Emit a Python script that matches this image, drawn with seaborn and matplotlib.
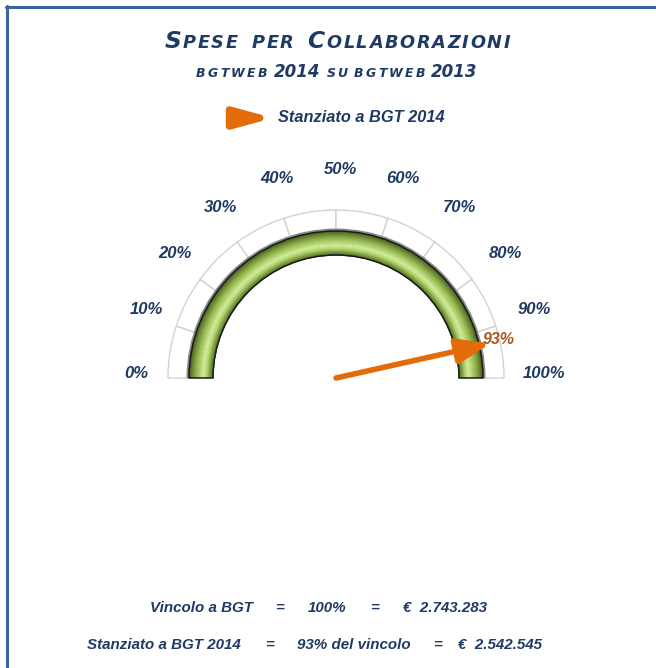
import numpy as np
import matplotlib
matplotlib.use("Agg")
import matplotlib.pyplot as plt
import seaborn as sns
from matplotlib.patches import Wedge
from matplotlib.offsetbox import TextArea, HPacker, AnnotationBbox
from matplotlib.lines import Line2D

# data
tick_values = [0, 10, 20, 30, 40, 50, 60, 70, 80, 90, 100]
tick_labels = [f"{v}%" for v in tick_values]
vincolo_pct = 100
stanziato_pct = 93
vincolo_eur = "2.743.283"
stanziato_eur = "2.542.545"
series_name = "Stanziato a BGT 2014"

sns.set_theme(style="white")
plt.rcParams['font.family'] = ['Liberation Sans', 'DejaVu Sans']

NAVY = "#1f3a63"
ORANGE = "#e36c0a"
BROWN = "#a9561c"

W, H = 656, 668
fig = plt.figure(figsize=(W / 100, H / 100), dpi=100)
ax = fig.add_axes([0, 0, 1, 1])
ax.set_xlim(0, W)
ax.set_ylim(0, H)
ax.axis("off")


def Y(y):
    # image row -> data y
    return H - y


cx, cy = 336, Y(378)


def ang(v):
    return 180 - 180 * v / 100


# grey scale band
for a, b in zip(tick_values[:-1], tick_values[1:]):
    ax.add_patch(Wedge((cx, cy), 168, ang(b), ang(a), width=22,
                       facecolor="white", edgecolor="#d2d2d2", lw=1.0))

# green ring with a shaded look
ax.add_patch(Wedge((cx, cy), 149.5, ang(vincolo_pct), 180, width=27,
                   facecolor="#8a8a8a", edgecolor="none"))
shade = sns.blend_palette(["#4f6b22", "#7ea040", "#b6d872", "#d2ec9e",
                           "#b4d46c", "#98b955", "#76963a", "#4f6b22"], n_colors=24)
r_in, r_out = 123, 147
for i, col in enumerate(shade):
    r = r_in + (i + 1) * (r_out - r_in) / len(shade)
    ax.add_patch(Wedge((cx, cy), r, ang(vincolo_pct), 180,
                       width=(r_out - r_in) / len(shade) + 0.6,
                       facecolor=col, edgecolor="none"))
ax.add_patch(Wedge((cx, cy), r_out, ang(vincolo_pct), 180, width=r_out - r_in,
                   fill=False, edgecolor="#1a1a1a", lw=1.1))

# tick labels
for v, lab in zip(tick_values, tick_labels):
    t = np.deg2rad(ang(v))
    ax.text(cx + 4 + 204 * np.cos(t), cy + 204 * np.sin(t) + 5, lab,
            ha="center", va="center", fontsize=12, fontweight="bold",
            style="italic", color=NAVY)

# needle
t = np.deg2rad(ang(stanziato_pct))
ax.annotate("", xy=(cx + 158 * np.cos(t), cy + 158 * np.sin(t)), xytext=(cx, cy),
            arrowprops=dict(arrowstyle="-|>,head_length=0.9,head_width=0.34",
                            lw=4, color=ORANGE, mutation_scale=22,
                            shrinkA=0, shrinkB=0))
ax.text(cx + 167 * np.cos(t), cy + 167 * np.sin(t) + 2, f"{stanziato_pct}%",
        ha="center", va="center", fontsize=11.5, fontweight="bold",
        style="italic", color=BROWN)


# small caps titles
def smallcaps(text, big, small, letter_sep, word_sep):
    props = dict(fontweight="bold", style="italic", color=NAVY,
                 family=['DejaVu Sans'])
    words = []
    for word in text.split(" "):
        if word.isdigit():
            words.append(TextArea(word, textprops=dict(fontsize=big, **props)))
            continue
        kids = []
        for ch in word:
            size = small if ch.islower() else big
            kids.append(TextArea(ch.upper(), textprops=dict(fontsize=size, **props)))
        words.append(HPacker(children=kids, align="baseline", pad=0, sep=letter_sep))
    return HPacker(children=words, align="baseline", pad=0, sep=word_sep)


for txt, big, small, ls, ws, y in [("Spese per Collaborazioni", 16.8, 12.8, 1.2, 10, 42),
                                   ("bgtweb 2014 su bgtweb 2013", 12, 9, 1.6, 4.5, 72)]:
    ab = AnnotationBbox(smallcaps(txt, big, small, ls, ws), (337, Y(y)),
                        frameon=False, box_alignment=(0.5, 0.5), pad=0)
    ax.add_artist(ab)

# legend
ax.annotate("", xy=(273, Y(118)), xytext=(232, Y(118)),
            arrowprops=dict(arrowstyle="-|>,head_length=1.1,head_width=0.3",
                            lw=5, color=ORANGE, mutation_scale=20,
                            shrinkA=0, shrinkB=0))
ax.text(278, Y(117), series_name, ha="left", va="center", fontsize=11.8,
        fontweight="bold", style="italic", color=NAVY)

# bottom summary
kw = dict(fontsize=10.9, fontweight="bold", style="italic", color=NAVY, va="center")
ax.text(150, Y(608), "Vincolo a BGT", ha="left", **kw)
ax.text(280, Y(608), "=", ha="center", **kw)
ax.text(327, Y(608), f"{vincolo_pct}%", ha="center", **kw)
ax.text(375, Y(608), "=", ha="center", **kw)
ax.text(403, Y(608), f"€  {vincolo_eur}", ha="left", **kw)
ax.text(87, Y(645), series_name, ha="left", **kw)
ax.text(270, Y(645), "=", ha="center", **kw)
ax.text(297, Y(645), f"{stanziato_pct}% del vincolo", ha="left", **kw)
ax.text(438, Y(645), "=", ha="center", **kw)
ax.text(458, Y(645), f"€  {stanziato_eur}", ha="left", **kw)

# frame lines (left and top)
for xs, ys in [([7, 7], [Y(6), 0]), ([6, W], [Y(7), Y(7)])]:
    fig.add_artist(Line2D(np.array(xs) / W, np.array(ys) / H, color="#3b63a0",
                          lw=2.2, transform=fig.transFigure))

fig.savefig("out.png", dpi=100)
